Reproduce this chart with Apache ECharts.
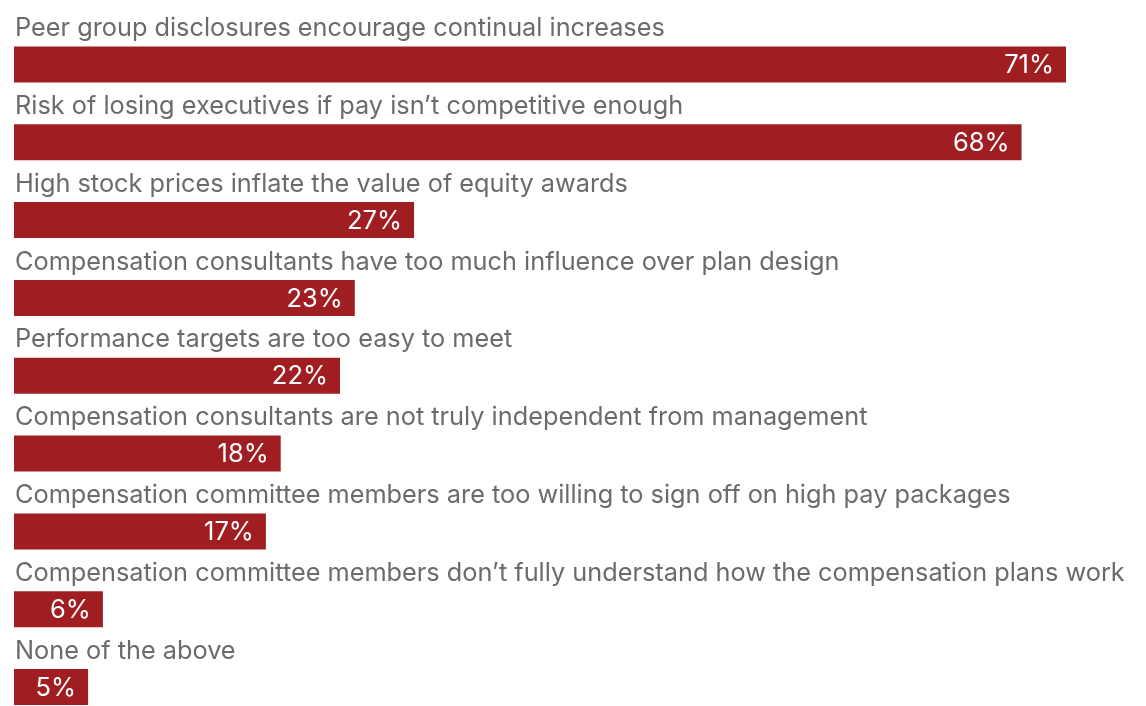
<!DOCTYPE html>
<html lang="en">
<head>
    <meta charset="UTF-8">
    <title>Pay drivers</title>
    <style>
        body{ margin: 0; background: #fff; }
        #main{
            width: 1146px;
            height: 706px;
        }
    </style>
</head>
<body>
<div id="main"></div>
<script src="https://cdn.jsdelivr.net/npm/echarts@6/dist/echarts.min.js"></script>
<script>
    const myChart = echarts.init(document.getElementById('main'));

    // categories, top to bottom
    const reasons = [
        'Peer group disclosures encourage continual increases',
        'Risk of losing executives if pay isn’t competitive enough',
        'High stock prices inflate the value of equity awards',
        'Compensation consultants have too much influence over plan design',
        'Performance targets are too easy to meet',
        'Compensation consultants are not truly independent from management',
        'Compensation committee members are too willing to sign off on high pay packages',
        'Compensation committee members don’t fully understand how the compensation plans work',
        'None of the above'
    ];
    // share of respondents, %
    const shares = [71, 68, 27, 23, 22, 18, 17, 6, 5];

    const font = 'Inter, "Liberation Sans", Arial, sans-serif';
    const red = '#a01e21';

    const option = {
        animation: false,
        grid: {
            left: 14,
            right: 80,
            top: 5.5,
            height: 706.5
        },
        xAxis: {
            type: 'value',
            min: 0,
            max: 71,
            show: false
        },
        yAxis: {
            type: 'category',
            inverse: true,
            data: reasons,
            show: false
        },
        series: [
            {
                // title row above each bar (zero-length bar carrying the text)
                type: 'bar',
                barWidth: 40,
                barGap: '0%',
                data: reasons.map(() => 0),
                itemStyle: { color: 'rgba(0,0,0,0)' },
                label: {
                    show: true,
                    position: 'right',
                    distance: 1,
                    offset: [0, 2],
                    formatter: p => reasons[p.dataIndex],
                    color: '#6b6b6b',
                    fontFamily: font,
                    fontSize: 25.3
                },
                silent: true
            },
            {
                type: 'bar',
                barWidth: 36,
                data: shares,
                itemStyle: { color: red },
                label: {
                    show: true,
                    position: 'insideRight',
                    distance: 12,
                    offset: [0, 1],
                    formatter: '{c}%',
                    color: '#fff',
                    fontFamily: font,
                    fontSize: 25.5
                }
            }
        ]
    };

    myChart.setOption(option);
</script>
</body>
</html>
